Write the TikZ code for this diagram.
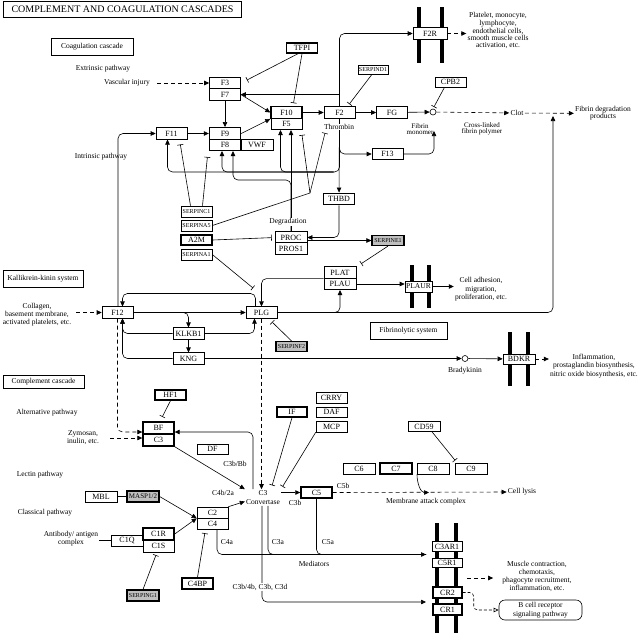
\documentclass[tikz,border=0pt]{standalone}
\usepackage{fontspec}
\setmainfont{Liberation Serif}
\usetikzlibrary{arrows.meta}
\newcommand\kgGene{\fontsize{8}{8}\selectfont}
\newcommand\kgTiny{\fontsize{6}{6}\selectfont}
\newcommand\kgLab{\fontsize{7.5}{8}\selectfont}
\newcommand\kgHead{\fontsize{10}{10}\selectfont}
\begin{document}
\begin{tikzpicture}[x=1pt,y=-1pt,line width=0.6pt,
  gene/.style={draw,fill=white,font=\kgGene,inner sep=0pt,minimum width=31pt,minimum height=11.5pt},
  heavy/.style={line width=1.4pt},
  greyed/.style={fill=black!25,line width=1.2pt},
  smallname/.style={font=\kgTiny},
  lab/.style={font=\kgLab,align=center,inner sep=1pt},
  sysbox/.style={draw,fill=white,font=\kgLab,inner sep=0pt},
  arr/.style={-{Triangle[length=5pt,width=4.5pt]}},
  darr/.style={arr,dash pattern=on 4pt off 3pt},
  inh/.style={-{Bar[width=6pt]}},
  memb/.style={line width=3.5pt}]
  \useasboundingbox (0,0) rectangle (641,633);
  % membranes
  \draw[memb] (419,7) -- (419,63) (442,7) -- (442,63);
  \draw[memb] (412,265) -- (412,308) (429,265) -- (429,308);
  \draw[memb] (510,332) -- (510,386) (528,332) -- (528,386);
  \draw[memb] (437,523) -- (437,633) (456,523) -- (456,633);
  % title and system boxes
  \node[draw,line width=1.5pt,font=\kgHead,minimum width=238pt,minimum height=16pt,inner sep=0pt] (title) at (122.5,9.5) {COMPLEMENT AND COAGULATION CASCADES};
  \node[sysbox,minimum width=82pt,minimum height=17pt] (coag) at (92,46.5) {Coagulation cascade};
  \node[sysbox,minimum width=80pt,minimum height=17pt] (kallik) at (43,278.5) {Kallikrein-kinin system};
  \node[sysbox,minimum width=77pt,minimum height=17pt] (fibrino) at (408.5,330.5) {Fibrinolytic system};
  \node[sysbox,minimum width=81pt,minimum height=13pt] (compl) at (43.5,381.5) {Complement cascade};
  % coagulation genes
  \node[gene] (F3) at (225,83) {F3};
  \node[gene] (F7) at (225,94.5) {F7};
  \node[gene,heavy] (F10) at (286.5,112.5) {F10};
  \node[gene] (F5) at (286.5,124) {F5};
  \node[gene,heavy] (F9) at (225,133.5) {F9};
  \node[gene] (F8) at (225,145) {F8};
  \node[gene,minimum width=32pt] (VWF) at (257,145) {VWF};
  \node[gene] (F11) at (171.5,133.5) {F11};
  \node[gene] (F2) at (339.5,112.5) {F2};
  \node[gene] (FG) at (392,112.5) {FG};
  \node[gene] (F13) at (387.5,154) {F13};
  \node[gene,heavy,minimum height=10pt] (TFPI) at (302,48) {TFPI};
  \node[gene,smallname,minimum width=30pt,minimum height=9pt] (SERPIND1) at (373,69.5) {SERPIND1};
  \node[gene,heavy] (THBD) at (339,199) {THBD};
  \node[gene,minimum width=34pt] (F2R) at (430,33.5) {F2R};
  \node[gene,minimum height=10pt] (CPB2) at (450.5,82) {CPB2};
  \node[circle,draw,fill=white,inner sep=0pt,minimum size=6pt] (fm) at (433,112) {};
  \node[gene,smallname,minimum height=11pt] (SERPINC1) at (196.5,211.5) {SERPINC1};
  \node[gene,smallname,minimum height=11pt] (SERPINA5) at (196.5,225.5) {SERPINA5};
  \node[gene,heavy,minimum height=10pt] (A2M) at (196.5,240) {A2M};
  \node[gene,smallname,minimum height=11pt] (SERPINA1) at (196.5,254.5) {SERPINA1};
  \node[gene,minimum width=32pt] (PROC) at (291,237.5) {PROC};
  \node[gene,minimum width=32pt] (PROS1) at (291,248.5) {PROS1};
  \node[gene,smallname,greyed,minimum width=32pt,minimum height=10pt] (SERPINE1) at (388,240.5) {SERPINE1};
  \node[gene,minimum width=32pt] (PLAT) at (340,272.5) {PLAT};
  \node[gene,minimum width=32pt] (PLAU) at (340,284) {PLAU};
  \node[gene,font=\fontsize{7.5}{7.5}\selectfont,minimum width=27pt,minimum height=11pt] (PLAUR) at (418.5,286.5) {PLAUR};
  \node[gene] (PLG) at (261.5,312.5) {PLG};
  \node[gene,smallname,greyed,minimum height=10pt] (SERPINF2) at (291.5,346.5) {SERPINF2};
  % kallikrein-kinin genes
  \node[gene] (F12) at (117.5,312.5) {F12};
  \node[gene] (KLKB1) at (188.5,333.5) {KLKB1};
  \node[gene] (KNG) at (188.5,358.5) {KNG};
  \node[circle,draw,fill=white,inner sep=0pt,minimum size=6pt] (bk) at (465,358.5) {};
  \node[gene,minimum width=32pt,minimum height=10pt] (BDKR) at (519,359) {BDKR};
  % complement genes
  \node[gene,heavy,minimum height=10pt] (HF1) at (170.5,395) {HF1};
  \node[gene,heavy,minimum height=12pt] (BF) at (158.5,428) {BF};
  \node[gene,heavy,minimum height=12pt] (C3) at (158.5,440) {C3};
  \node[gene,minimum height=10pt] (DF) at (212.5,449) {DF};
  \node[gene,heavy,minimum width=30pt,minimum height=10pt] (IF) at (292,412) {IF};
  \node[gene,minimum height=11pt] (CRRY) at (331.5,397.5) {CRRY};
  \node[gene,minimum height=10pt] (DAF) at (331.5,412) {DAF};
  \node[gene,minimum height=11pt] (MCP) at (331.5,426.5) {MCP};
  \node[gene,minimum height=11pt] (C2) at (212.5,512.5) {C2};
  \node[gene,minimum height=11pt] (C4) at (212.5,523.5) {C4};
  \node[gene,heavy,minimum height=11pt] (C5) at (316.5,492.5) {C5};
  \node[gene,minimum width=32pt,minimum height=11pt] (C6) at (359,468.5) {C6};
  \node[gene,heavy,minimum width=32pt,minimum height=11pt] (C7) at (396,468.5) {C7};
  \node[gene,minimum width=32pt,minimum height=11pt] (C8) at (433,468.5) {C8};
  \node[gene,minimum width=32pt,minimum height=11pt] (C9) at (471,468.5) {C9};
  \node[gene,minimum width=32pt,minimum height=10pt] (CD59) at (424,426.5) {CD59};
  \node[gene,minimum width=32pt,minimum height=11pt] (MBL) at (101,496.5) {MBL};
  \node[gene,greyed,font=\fontsize{7}{7}\selectfont,minimum width=32pt,minimum height=11pt] (MASP) at (143,496.5) {MASP1/2};
  \node[gene,minimum width=32pt,minimum height=11pt] (C1Q) at (127,540.5) {C1Q};
  \node[gene,heavy,minimum height=12pt] (C1R) at (158.5,534) {C1R};
  \node[gene,minimum height=12pt] (C1S) at (158.5,546) {C1S};
  \node[gene,smallname,greyed,minimum width=32pt,minimum height=11pt] (SERPING1) at (143,595.5) {SERPING1};
  \node[gene,heavy,minimum height=11pt] (C4BP) at (197.5,583.5) {C4BP};
  \node[gene,minimum width=30pt,minimum height=10.5pt] (C3AR1) at (447,546.5) {C3AR1};
  \node[gene,minimum width=30pt,minimum height=9pt] (C5R1) at (447,562.5) {C5R1};
  \node[gene,heavy,minimum width=29pt,minimum height=11pt] (CR2) at (447.5,592.5) {CR2};
  \node[gene,heavy,minimum width=29pt,minimum height=11pt] (CR1) at (447.5,609.5) {CR1};
  \node[draw,rounded corners=6pt,lab,font=\fontsize{7.5}{9}\selectfont,minimum width=83pt,minimum height=20pt] (bcr) at (540.5,610) {B cell receptor\\signaling pathway};
  % text labels used as ends
  \node[lab] (vinj) at (127,83) {Vascular injury};
  \node[lab] (clot) at (517,113) {Clot};
  \node[lab,font=\fontsize{7.5}{7}\selectfont] (fdp) at (603,113.5) {Fibrin degradation\\products};
  \node[lab,font=\fontsize{7.5}{6.8}\selectfont] (plt) at (498,30.5) {Platelet, monocyte,\\lymphocyte,\\endothelial cells,\\smooth muscle cells\\activation, etc.};
  \node[lab] (coll) at (37,315) {Collagen,\\basement membrane,\\activated platelets, etc.};
  \node[lab,font=\fontsize{7.5}{8.5}\selectfont] (celladh) at (481,289.5) {Cell adhesion,\\migration,\\proliferation, etc.};
  \node[lab,font=\fontsize{7.5}{8.5}\selectfont] (infl) at (594,366) {Inflammation,\\prostaglandin biosynthesis,\\nitric oxide biosynthesis, etc.};
  \node[lab] (zym) at (83,438) {Zymosan,\\inulin, etc.};
  \node[lab,font=\fontsize{7.5}{9}\selectfont] (conv) at (263,497.5) {C3\\Convertase};
  \node[lab] (lysis) at (522,492) {Cell lysis};
  \node[lab] (ab) at (71,539) {Antibody/ antigen\\complex};
  \node[lab,font=\fontsize{7.5}{8.3}\selectfont] (muscle) at (537,576.5) {Muscle contraction,\\chemotaxis,\\phagocyte recruitment,\\inflammation, etc.};
  % free ends
  \coordinate (tF3) at (247,80);
  \coordinate (thr) at (339.5,172);
  \coordinate (deg) at (291,180);
  \coordinate (a5) at (310,193);
  \coordinate (tF5) at (302,135);
  \coordinate (tF2) at (325,133);
  \coordinate (tPLG) at (253,288);
  \coordinate (lys) at (553,116);
  \coordinate (xlink) at (434,131);
  \coordinate (medin) at (426,554.5);
  \coordinate (crin) at (426,602);
  \coordinate (rcp) at (467,578);
  % coagulation connectors
  \draw[darr,shorten <=6pt] (vinj) -- (F3);
  \draw[arr] (F7) -- (F9);
  \draw[arr] (F7.east) -- (F10.west);
  \draw[arr] (F9.east) -- (F10.south west);
  \draw[arr] (F11) -- (F9);
  \draw[arr] (F10.east) -- (F2);
  \draw[arr] (F2) -- (FG);
  \draw[arr] (FG) -- (fm);
  \draw[darr] (fm) -- (clot);
  \draw[darr] (clot) -- (fdp);
  \draw[inh] ([xshift=-4]TFPI.south) -- (tF3);
  \draw[inh,shorten >=3pt] (TFPI.south) -- ([xshift=6.5]F10.north);
  \draw[inh,shorten >=3pt] ([xshift=-1]SERPIND1.south) -- ([xshift=8]F2.north);
  \draw[inh,shorten >=2pt] ([xshift=-6]CPB2.south) -- (fm.north);
  \draw[arr,rounded corners=5pt] (F2.north) |- (F2R.west);
  \draw[arr] (F2.north |- F7.east) -- (F7.east);
  \draw[darr] (F2R.east) -- (plt.west |- F2R.east);
  \draw[arr] (F2) -- (THBD);
  \draw[arr,rounded corners=5pt] (F2.south) |- (F13.west);
  \draw[arr,rounded corners=5pt] (F13.east) -| (xlink);
  \draw[arr,rounded corners=5pt] (F2.south) -- (thr) -| ([xshift=-4]F11.south);
  \draw[arr,rounded corners=5pt] ([xshift=-6]thr) -| ([xshift=-3]F8.south);
  \draw[arr,rounded corners=5pt] ([xshift=-6]thr) -| ([xshift=-6]F5.south);
  \draw[arr] (PROC.north) -- (PROC.north |- F5.south);
  \draw[arr,rounded corners=5pt] (PROC.north) -- (deg) -| ([xshift=8]F8.south);
  \draw[arr,rounded corners=5pt] (THBD.south) |- (PROC.east);
  \draw[arr] (PROC.east |- SERPINE1.west) -- (SERPINE1.west);
  \draw[inh,shorten >=5pt] (SERPINE1.south) -- ([xshift=17]PLAT.north);
  \draw[inh,shorten >=5pt] ([xshift=-6]SERPINC1.north) -- ([xshift=8]F11.south);
  \draw[inh,shorten >=6pt] ([xshift=6]SERPINC1.north) -- ([xshift=-17]F8.south);
  \draw (SERPINA5.east) -- (a5);
  \draw[inh] (a5) -- (tF5);
  \draw[inh] (a5) -- (tF2);
  \draw[inh,shorten >=3pt] (A2M.east) -- (PROC.west);
  \draw[inh] (SERPINA1.east) -- (tPLG);
  % kallikrein-kinin and fibrinolysis connectors
  \draw[darr,shorten <=4pt] (coll.east |- F12.west) -- (F12.west);
  \draw[arr] (F12) -- (PLG);
  \draw[arr,rounded corners=5pt] ([xshift=-8]KLKB1.north |- F12.east) -| (KLKB1.north);
  \draw[arr] (KLKB1) -- (KNG);
  \draw[arr,rounded corners=5pt] (KLKB1.west) -| ([xshift=5]F12.south);
  \draw[arr,rounded corners=5pt] (KNG.west) -| ([xshift=5]F12.south);
  \draw[arr,rounded corners=5pt] (KLKB1.east) -| ([xshift=-7]PLG.south);
  \draw[arr] (KNG) -- (bk);
  \draw[arr] (bk) -- (BDKR);
  \draw[darr] (BDKR.east) -- (infl.west |- BDKR.east);
  \draw[arr,rounded corners=5pt] ([xshift=0.5]F12.north) |- (F11.west);
  \draw[arr,rounded corners=5pt] ([xshift=-6]PLG.north) -- ++(0,-13) -| ([xshift=5]F12.north);
  \draw[arr,rounded corners=5pt] (PLAT.south west) -| (PLG.north);
  \draw[arr] (PLAU.east) -- (PLAU.east -| PLAUR.west);
  \draw[arr] (PLAUR.east) -- (celladh.west |- PLAUR.east);
  \draw[arr,rounded corners=5pt] ([xshift=-8]PLAU.south |- PLG.east) -| (PLAU.south);
  \draw[arr,rounded corners=5pt] (PLG.east) -| (lys);
  \draw[inh,shorten >=5pt] (SERPINF2.north) -- ([xshift=7]PLG.south);
  % complement connectors
  \draw[darr,rounded corners=5pt] (F12.south) |- ([yshift=-4pt]BF.west);
  \draw[darr,shorten <=10pt] (zym) -- ([yshift=2pt]C3.west);
  \draw[inh,shorten >=5pt] (HF1.south) -- ([xshift=1.5]BF.north);
  \draw[arr] (C3.south east) -- (conv.north west);
  \draw[darr] (PLG.south) -- (PLG.south |- conv.north);
  \draw[arr,rounded corners=5pt] ([xshift=-10]conv.north) |- ([yshift=-4pt]BF.east);
  \draw[arr] (C2.north east) -- ([yshift=-4pt]conv.west);
  \draw[inh,shorten >=4pt] (IF.south) -- ([xshift=8]conv.north);
  \draw[inh,shorten >=3pt] (MCP.south west) -- ([xshift=18]conv.north);
  \draw[arr] (conv.east |- C5.west) -- (C5.west);
  \draw[darr] (C5.east) -- (lysis.west);
  \draw[arr] ([xshift=-16]C8.south) to[out=-90,in=180] ([xshift=-4pt]C8.south |- C5.east);
  \draw[inh,shorten >=3pt] ([xshift=8]CD59.south) -- ([xshift=-14]C9.north);
  \draw (MBL) -- (MASP);
  \draw[arr] (MASP.east) -- (C2.south west);
  \draw[arr] (C1R.east) -- (C2.south west);
  \draw (ab.east |- C1Q.west) -- (C1Q.west);
  \draw[inh,shorten >=3pt] (SERPING1.north) -- ([xshift=-1.5]C1S.south);
  \draw[inh,shorten >=4pt] (C4BP.north) -- ([xshift=-7]C4.south);
  \draw[arr,rounded corners=5pt] ([xshift=4.5]C4.south) |- (medin);
  \draw[rounded corners=5pt] ([xshift=5]conv.south) |- (medin);
  \draw[rounded corners=5pt] (C5.south) |- (medin);
  \draw[arr,rounded corners=5pt] ([xshift=-1]conv.south) |- (crin);
  \draw[darr,shorten >=8pt] (rcp) -- (muscle.west |- rcp);
  \draw[dash pattern=on 3pt off 2pt,-{Triangle[open,length=5pt,width=4.5pt]},rounded corners=4pt] (CR2.east) -- ++(11,0) |- (bcr.west);
  % other labels
  \node[lab] (extr) at (103,69) {Extrinsic pathway};
  \node[lab] (intr) at (101,157) {Intrinsic pathway};
  \node[lab,fill=white,inner sep=0.5pt] (thrlab) at (339,127) {Thrombin};
  \node[lab,font=\fontsize{7}{6.5}\selectfont] (fmlab) at (420,129) {Fibrin\\monomer};
  \node[lab,font=\fontsize{7}{6.5}\selectfont] (xlab) at (482,129) {Cross-linked\\fibrin polymer};
  \node[lab,fill=white,inner sep=0.5pt] (deglab) at (288,222) {Degradation};
  \node[lab] (bklab) at (465,371) {Bradykinin};
  \node[lab] (altp) at (47,413) {Alternative pathway};
  \node[lab] (lecp) at (40,475) {Lectin pathway};
  \node[lab] (clsp) at (45,513) {Classical pathway};
  \node[lab] (c3bb) at (235,464) {C3b/Bb};
  \node[lab] (c4b2a) at (223,493) {C4b/2a};
  \node[lab] (c3blab) at (295,503) {C3b};
  \node[lab] (c5blab) at (343,486) {C5b};
  \node[lab] (mac) at (426,502) {Membrane attack complex};
  \node[lab] (c4alab) at (227,542) {C4a};
  \node[lab] (c3alab) at (278,542) {C3a};
  \node[lab] (c5alab) at (328,542) {C5a};
  \node[lab] (medlab) at (314,564) {Mediators};
  \node[lab,fill=white,inner sep=0.5pt] (opson) at (260,587) {C3b/4b, C3b, C3d};
\end{tikzpicture}
\end{document}
